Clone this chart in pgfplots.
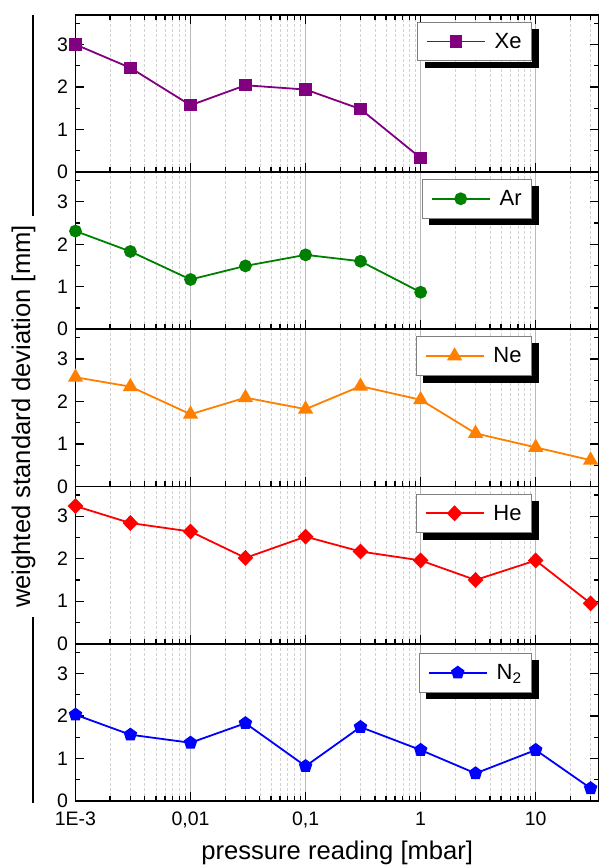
\documentclass[border=0pt]{standalone}
\usepackage{fontspec}
\setmainfont{Liberation Sans}
\usepackage{pgfplots}
\pgfplotsset{compat=1.18}
\definecolor{xecol}{RGB}{128,0,128}
\definecolor{arcol}{RGB}{0,128,0}
\definecolor{necol}{RGB}{255,128,0}
\definecolor{hecol}{RGB}{255,0,0}
\definecolor{ntcol}{RGB}{0,0,255}
\pgfplotsset{
  legend image code/.code={\draw[mark repeat=2,mark phase=2,#1] plot coordinates {(0bp,0bp) (29bp,0bp) (58bp,0bp)};},
  every axis plot/.append style={line width=1.8bp, mark options={solid}},
  legend style={anchor=north east, draw=gray, fill=white,
      line width=0.8bp,
      font=\fontsize{22bp}{24bp}\selectfont, inner xsep=8bp, inner ysep=9bp, column sep=7bp},
  legend cell align=left,
  tick label style={font=\fontsize{19.5bp}{21bp}\selectfont},
  yticklabel style={xshift=-4bp, inner ysep=0pt},
  xticklabel style={inner ysep=0pt, yshift=-11bp},
  major grid style={gray!55, line width=0.8bp},
  minor grid style={gray!35, line width=0.6bp, dash pattern=on 3bp off 2bp},
  axis line style={line width=1.6bp},
  every tick/.style={black, line width=1.3bp},
}
\begin{document}
\begin{tikzpicture}[x=1bp,y=1bp]
% Xe
\begin{axis}[scale only axis, width=523.5bp, height=157.25bp,
    xmode=log, xmin=1e-3, xmax=35.5, ymin=0, ymax=3.7,
    ytick={0,1,2,3}, minor ytick={0.5,1.5,2.5,3.5},
    xtick={1e-3,1e-2,1e-1,1,10},
    minor xtick={2e-3,3e-3,4e-3,5e-3,6e-3,7e-3,8e-3,9e-3,2e-2,3e-2,4e-2,5e-2,6e-2,7e-2,8e-2,9e-2,0.2,0.3,0.4,0.5,0.6,0.7,0.8,0.9,2,3,4,5,6,7,8,9,20,30},
    xmajorgrids, xminorgrids, tick align=inside, ytick pos=both, yticklabel pos=left,
    xticklabels=\empty, clip=false, major tick length=9bp, minor tick length=5bp,
    /pgf/number format/assume math mode=true,
    at={(75.5bp,696bp)}, anchor=south west, xtick pos=both,
    legend style={at={(0.872,0.955)}, name=legxe}]
\addplot[color=xecol, mark=square*, mark size=5.3bp] coordinates {
(0.001,3.00) (0.003,2.45) (0.01,1.57) (0.03,2.04) (0.1,1.94) (0.3,1.48) (1,0.33)};
\legend{Xe}
\end{axis}
% Ar
\begin{axis}[scale only axis, width=523.5bp, height=157.25bp,
    xmode=log, xmin=1e-3, xmax=35.5, ymin=0, ymax=3.7,
    ytick={0,1,2,3}, minor ytick={0.5,1.5,2.5,3.5},
    xtick={1e-3,1e-2,1e-1,1,10},
    minor xtick={2e-3,3e-3,4e-3,5e-3,6e-3,7e-3,8e-3,9e-3,2e-2,3e-2,4e-2,5e-2,6e-2,7e-2,8e-2,9e-2,0.2,0.3,0.4,0.5,0.6,0.7,0.8,0.9,2,3,4,5,6,7,8,9,20,30},
    xmajorgrids, xminorgrids, tick align=inside, ytick pos=both, yticklabel pos=left,
    xticklabels=\empty, clip=false, major tick length=9bp, minor tick length=5bp,
    /pgf/number format/assume math mode=true,
    at={(75.5bp,538.75bp)}, anchor=south west, xtick pos=left,
    legend style={at={(0.872,0.955)}, name=legar}]
\addplot[color=arcol, mark=*, mark size=5.5bp] coordinates {
(0.001,2.31) (0.003,1.83) (0.01,1.17) (0.03,1.49) (0.1,1.75) (0.3,1.60) (1,0.87)};
\legend{Ar}
\end{axis}
% Ne
\begin{axis}[scale only axis, width=523.5bp, height=157.25bp,
    xmode=log, xmin=1e-3, xmax=35.5, ymin=0, ymax=3.7,
    ytick={0,1,2,3}, minor ytick={0.5,1.5,2.5,3.5},
    xtick={1e-3,1e-2,1e-1,1,10},
    minor xtick={2e-3,3e-3,4e-3,5e-3,6e-3,7e-3,8e-3,9e-3,2e-2,3e-2,4e-2,5e-2,6e-2,7e-2,8e-2,9e-2,0.2,0.3,0.4,0.5,0.6,0.7,0.8,0.9,2,3,4,5,6,7,8,9,20,30},
    xmajorgrids, xminorgrids, tick align=inside, ytick pos=both, yticklabel pos=left,
    xticklabels=\empty, clip=false, major tick length=9bp, minor tick length=5bp,
    /pgf/number format/assume math mode=true,
    at={(75.5bp,381.5bp)}, anchor=south west, xtick pos=left,
    legend style={at={(0.872,0.955)}, name=legne}]
\addplot[color=necol, mark=triangle*, mark size=7bp] coordinates {
(0.001,2.57) (0.003,2.35) (0.01,1.70) (0.03,2.09) (0.1,1.82) (0.3,2.36) (1,2.04) (3,1.25) (10,0.92) (30,0.62)};
\legend{Ne}
\end{axis}
% He
\begin{axis}[scale only axis, width=523.5bp, height=157.25bp,
    xmode=log, xmin=1e-3, xmax=35.5, ymin=0, ymax=3.7,
    ytick={0,1,2,3}, minor ytick={0.5,1.5,2.5,3.5},
    xtick={1e-3,1e-2,1e-1,1,10},
    minor xtick={2e-3,3e-3,4e-3,5e-3,6e-3,7e-3,8e-3,9e-3,2e-2,3e-2,4e-2,5e-2,6e-2,7e-2,8e-2,9e-2,0.2,0.3,0.4,0.5,0.6,0.7,0.8,0.9,2,3,4,5,6,7,8,9,20,30},
    xmajorgrids, xminorgrids, tick align=inside, ytick pos=both, yticklabel pos=left,
    xticklabels=\empty, clip=false, major tick length=9bp, minor tick length=5bp,
    /pgf/number format/assume math mode=true,
    at={(75.5bp,224.25bp)}, anchor=south west, xtick pos=left,
    legend style={at={(0.872,0.955)}, name=leghe}]
\addplot[color=hecol, mark=diamond*, mark size=6.7bp, mark options={xscale=1.3}] coordinates {
(0.001,3.24) (0.003,2.84) (0.01,2.64) (0.03,2.02) (0.1,2.52) (0.3,2.17) (1,1.96) (3,1.50) (10,1.96) (30,0.95)};
\legend{He}
\end{axis}
% N2
\begin{axis}[scale only axis, width=523.5bp, height=157.25bp,
    xmode=log, xmin=1e-3, xmax=35.5, ymin=0, ymax=3.7,
    ytick={0,1,2,3}, minor ytick={0.5,1.5,2.5,3.5},
    xtick={1e-3,1e-2,1e-1,1,10},
    minor xtick={2e-3,3e-3,4e-3,5e-3,6e-3,7e-3,8e-3,9e-3,2e-2,3e-2,4e-2,5e-2,6e-2,7e-2,8e-2,9e-2,0.2,0.3,0.4,0.5,0.6,0.7,0.8,0.9,2,3,4,5,6,7,8,9,20,30},
    xmajorgrids, xminorgrids, tick align=inside, ytick pos=both, yticklabel pos=left,
    clip=false, major tick length=9bp, minor tick length=5bp,
    /pgf/number format/assume math mode=true,
    at={(75.5bp,67bp)}, anchor=south west, xtick pos=left,
    xticklabels={1E-3,{0,01},{0,1},1,10},
    xlabel={pressure reading [mbar]},
    xlabel style={at={(axis description cs:0.5,0)}, anchor=base, yshift=-58bp, font=\fontsize{25.6bp}{28bp}\selectfont},
    legend style={at={(0.872,0.941)}, name=legnt}]
\addplot[color=ntcol, mark=pentagon*, mark size=6bp] coordinates {
(0.001,2.03) (0.003,1.56) (0.01,1.37) (0.03,1.83) (0.1,0.82) (0.3,1.74) (1,1.20) (3,0.65) (10,1.20) (30,0.30)};
\legend{N\textsubscript{2}}
\end{axis}
\foreach \l in {legxe,legar,legne,leghe,legnt}{
  \fill[black] ([shift={(0.4bp,-7bp)}]\l.north east) rectangle ([shift={(7bp,-7bp)}]\l.south east);
  \fill[black] ([shift={(7bp,-7bp)}]\l.south west) rectangle ([shift={(7bp,-0.4bp)}]\l.south east);
}
\node[rotate=90, anchor=base, font=\fontsize{25.6bp}{28bp}\selectfont] at (30,451.5) {weighted standard deviation [mm]};
\draw[line width=2bp] (32.5,853) -- (32.5,652.3);
\draw[line width=2bp] (32.5,251) -- (32.5,65);
\pgfresetboundingbox
\useasboundingbox (0,0) rectangle (599,868);
\end{tikzpicture}
\end{document}
